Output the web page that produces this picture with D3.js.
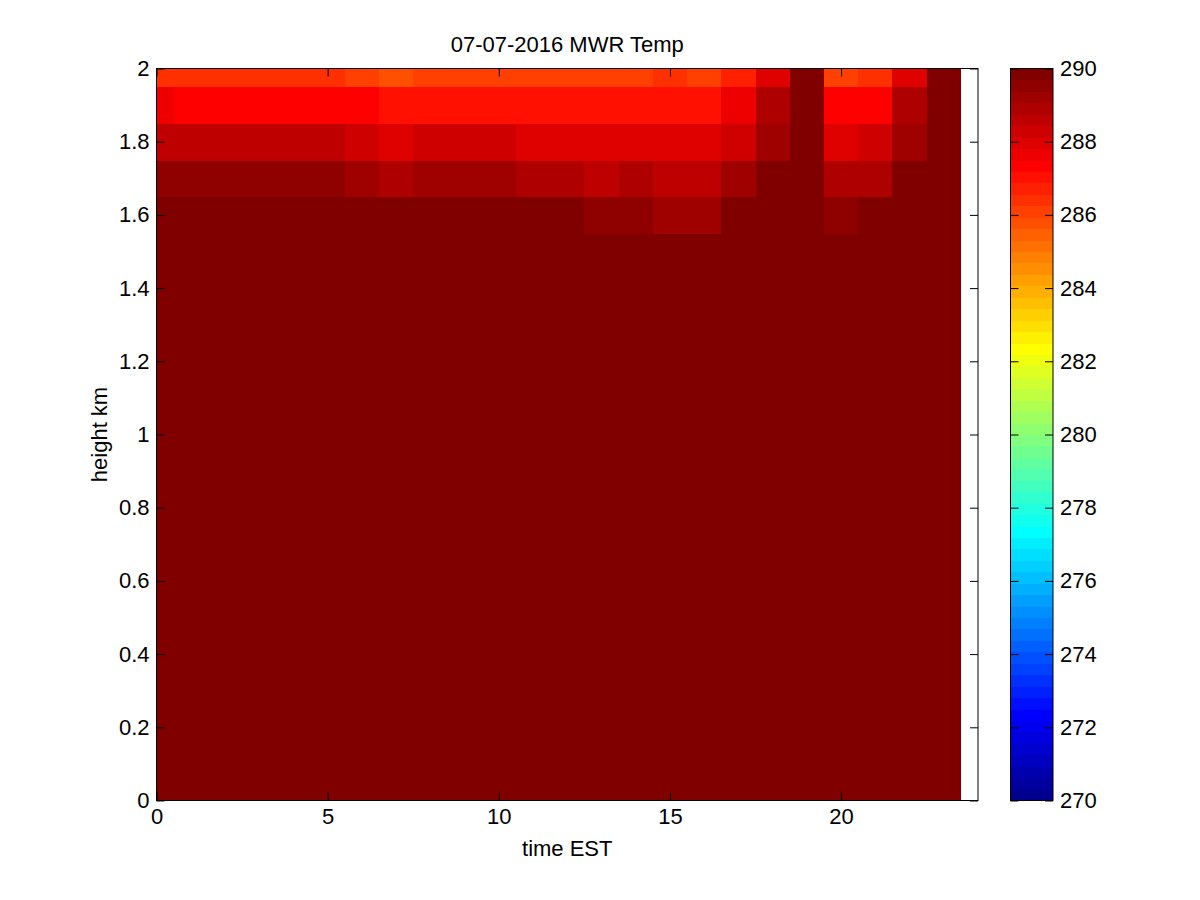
<!DOCTYPE html>
<html>
<head>
<meta charset="utf-8">
<script src="https://cdn.jsdelivr.net/npm/d3@7"></script>
<style>
  body { margin: 0; background: #fff; }
  svg text { font-family: "Liberation Sans", Arial, sans-serif; font-size: 22px; fill: #000; }
</style>
</head>
<body>
<svg id="chart" width="1200" height="900"></svg>
<script>
// time of day (EST hours) for each profile column
const hours = [0, 1, 2, 3, 4, 5, 6, 7, 8, 9, 10, 11, 12, 13, 14, 15, 16, 17, 18, 19, 20, 21, 22, 23];
// retrieval heights, km
const heights = [0, 0.1, 0.2, 0.3, 0.4, 0.5, 0.6, 0.7, 0.8, 0.9, 1.0, 1.1, 1.2, 1.3, 1.4, 1.5, 1.6, 1.7, 1.8, 1.9, 2.0];
// temperature (K), one row per height, one value per hour
const temps = [
  [297.1, 296.8, 296.5, 296.3, 296.0, 295.8, 296.2, 297.4, 298.9, 300.2, 301.3, 302.2, 302.9, 303.4, 303.6, 303.5, 303.1, 302.4, 301.3, 300.1, 299.2, 298.5, 297.9, 297.5],
  [296.9, 296.7, 296.5, 296.3, 296.1, 295.9, 296.0, 296.9, 298.2, 299.5, 300.6, 301.5, 302.2, 302.7, 302.9, 302.8, 302.4, 301.8, 300.8, 299.8, 299.0, 298.3, 297.8, 297.4],
  [296.5, 296.3, 296.1, 295.9, 295.7, 295.5, 295.6, 296.2, 297.4, 298.7, 299.8, 300.7, 301.4, 301.9, 302.1, 302.0, 301.6, 301.0, 300.1, 299.2, 298.5, 297.9, 297.3, 296.9],
  [296.0, 295.8, 295.6, 295.4, 295.2, 295.0, 295.1, 295.5, 296.5, 297.8, 298.9, 299.8, 300.5, 301.0, 301.2, 301.1, 300.7, 300.1, 299.3, 298.5, 297.8, 297.2, 296.7, 296.3],
  [295.4, 295.2, 295.0, 294.8, 294.6, 294.5, 294.5, 294.8, 295.7, 296.9, 298.0, 298.9, 299.6, 300.1, 300.3, 300.2, 299.8, 299.3, 298.5, 297.7, 297.1, 296.5, 296.0, 295.7],
  [294.8, 294.6, 294.4, 294.2, 294.1, 293.9, 293.9, 294.2, 294.9, 296.0, 297.1, 298.0, 298.7, 299.2, 299.4, 299.3, 298.9, 298.4, 297.7, 297.0, 296.3, 295.8, 295.3, 295.0],
  [294.2, 294.0, 293.8, 293.7, 293.5, 293.4, 293.4, 293.6, 294.2, 295.1, 296.2, 297.1, 297.8, 298.3, 298.5, 298.4, 298.0, 297.5, 296.9, 296.2, 295.6, 295.1, 294.7, 294.4],
  [293.7, 293.5, 293.3, 293.2, 293.0, 292.9, 292.9, 293.1, 293.6, 294.4, 295.3, 296.2, 296.9, 297.4, 297.6, 297.5, 297.1, 296.6, 296.0, 295.4, 294.9, 294.4, 294.0, 293.8],
  [293.2, 293.0, 292.8, 292.7, 292.6, 292.5, 292.5, 292.6, 293.0, 293.7, 294.5, 295.3, 296.0, 296.5, 296.7, 296.6, 296.2, 295.8, 295.2, 294.7, 294.2, 293.8, 293.5, 293.3],
  [292.7, 292.6, 292.4, 292.3, 292.2, 292.1, 292.1, 292.2, 292.5, 293.1, 293.8, 294.5, 295.1, 295.6, 295.8, 295.7, 295.4, 295.0, 294.5, 294.0, 293.6, 293.3, 293.0, 292.8],
  [292.3, 292.2, 292.0, 291.9, 291.8, 291.7, 291.7, 291.8, 292.0, 292.5, 293.1, 293.7, 294.3, 294.7, 294.9, 294.8, 294.5, 294.1, 293.7, 293.3, 293.0, 292.7, 292.5, 292.4],
  [291.9, 291.8, 291.7, 291.6, 291.5, 291.4, 291.4, 291.4, 291.6, 291.9, 292.4, 292.9, 293.4, 293.8, 294.0, 293.9, 293.6, 293.3, 292.9, 292.6, 292.3, 292.1, 292.0, 291.9],
  [291.6, 291.5, 291.4, 291.3, 291.2, 291.1, 291.1, 291.1, 291.2, 291.5, 291.8, 292.2, 292.6, 292.9, 293.1, 293.0, 292.8, 292.5, 292.2, 291.9, 291.7, 291.6, 291.5, 291.5],
  [291.3, 291.2, 291.1, 291.0, 291.0, 290.9, 290.8, 290.8, 290.9, 291.1, 291.3, 291.6, 291.9, 292.1, 292.2, 292.1, 291.9, 291.7, 291.5, 291.3, 291.2, 291.1, 291.1, 291.1],
  [291.0, 290.9, 290.9, 290.8, 290.8, 290.7, 290.6, 290.6, 290.6, 290.7, 290.9, 291.1, 291.3, 291.4, 291.5, 291.4, 291.3, 291.1, 291.0, 290.9, 290.8, 290.8, 290.8, 290.8],
  [290.7, 290.6, 290.6, 290.5, 290.5, 290.4, 290.3, 290.3, 290.3, 290.4, 290.5, 290.6, 290.7, 290.8, 290.8, 290.8, 290.7, 290.6, 290.5, 290.5, 290.4, 290.5, 290.5, 290.5],
  [290.2, 290.2, 290.1, 290.1, 290.1, 290.0, 290.0, 290.0, 290.0, 290.1, 290.1, 290.0, 289.8, 289.5, 289.5, 289.2, 289.2, 290.1, 290.4, 290.6, 289.5, 290.0, 290.2, 290.3],
  [289.5, 289.5, 289.5, 289.5, 289.5, 289.5, 289.2, 288.9, 289.2, 289.2, 289.2, 288.9, 288.9, 288.6, 288.9, 288.6, 288.6, 289.2, 290.1, 290.5, 288.9, 288.9, 290.0, 290.3],
  [288.6, 288.6, 288.6, 288.6, 288.6, 288.6, 288.3, 287.9, 288.3, 288.3, 288.3, 288.1, 288.0, 288.0, 288.0, 288.0, 288.0, 288.3, 289.2, 290.4, 288.0, 288.3, 289.2, 290.2],
  [287.6, 287.3, 287.3, 287.3, 287.3, 287.3, 287.3, 287.0, 287.0, 287.0, 287.0, 287.0, 287.0, 287.0, 287.0, 287.0, 287.0, 287.6, 288.8, 290.3, 287.2, 287.2, 288.8, 290.2],
  [286.3, 286.3, 286.3, 286.3, 286.3, 286.3, 286.1, 285.8, 286.1, 286.1, 286.1, 286.1, 286.1, 286.1, 286.1, 286.4, 286.1, 286.7, 287.9, 290.5, 286.1, 286.4, 287.9, 290.4]
];
const xTicks = [0, 5, 10, 15, 20];
const yTicks = [0, 0.2, 0.4, 0.6, 0.8, 1, 1.2, 1.4, 1.6, 1.8, 2];
const cTicks = [270, 272, 274, 276, 278, 280, 282, 284, 286, 288, 290];

// plot box
const L = 156.5, R = 978, T = 68.5, B = 800.5;
const svg = d3.select('#chart');

const x = d3.scaleLinear().domain([0, 24]).range([L, R]);
const y = d3.scaleLinear().domain([0, 2]).range([B, T]);

// MATLAB jet(64)
function jet(m) {
  const n = Math.ceil(m / 4);
  const u = [];
  for (let i = 1; i <= n; i++) u.push(i / n);
  for (let i = 1; i < n; i++) u.push(1);
  for (let i = n; i >= 1; i--) u.push(i / n);
  const J = d3.range(m).map(() => [0, 0, 0]);
  const g0 = Math.ceil(n / 2) - (m % 4 === 1 ? 1 : 0);
  u.forEach((v, k) => {
    const gi = g0 + k + 1, ri = gi + n, bi = gi - n;
    if (ri >= 1 && ri <= m) J[ri - 1][0] = v;
    if (gi >= 1 && gi <= m) J[gi - 1][1] = v;
    if (bi >= 1 && bi <= m) J[bi - 1][2] = v;
  });
  return J.map(c => d3.rgb(c[0] * 255, c[1] * 255, c[2] * 255).formatHex());
}
const jetColors = jet(64);
const color = d3.scaleQuantize().domain([270, 290]).range(jetColors);

// axes background
svg.append('rect').attr('x', L).attr('y', T).attr('width', R - L).attr('height', B - T).attr('fill', '#fff');

svg.append('clipPath').attr('id', 'plotclip')
  .append('rect').attr('x', L).attr('y', T).attr('width', R - L).attr('height', B - T);

// cells (flat shading, centred on each hour / height)
const cells = [];
heights.forEach((h, i) => hours.forEach((t, j) => cells.push({ h: h, t: t, v: temps[i][j] })));
svg.append('g')
  .attr('clip-path', 'url(#plotclip)')
  .selectAll('rect')
  .data(cells)
  .enter()
  .append('rect')
  .attr('x', d => x(d.t - 0.5))
  .attr('width', d => x(d.t + 0.5) - x(d.t - 0.5) + 0.5)
  .attr('y', d => y(d.h + 0.05))
  .attr('height', d => y(d.h - 0.05) - y(d.h + 0.05) + 0.5)
  .attr('fill', d => color(d.v))
  .attr('shape-rendering', 'crispEdges');

// axes, ticks inward on all sides
function tidy(g) {
  g.select('.domain').remove();
  g.attr('font-size', null).attr('font-family', null);
  g.selectAll('.tick line').attr('stroke', '#000');
}
svg.append('g').attr('transform', 'translate(0,' + B + ')')
  .call(d3.axisBottom(x).tickValues(xTicks).tickSizeInner(-8).tickSizeOuter(0).tickPadding(8))
  .call(tidy);
svg.append('g').attr('transform', 'translate(0,' + T + ')')
  .call(d3.axisTop(x).tickValues(xTicks).tickSizeInner(-8).tickSizeOuter(0).tickFormat(''))
  .call(tidy);
svg.append('g').attr('transform', 'translate(' + L + ',0)')
  .call(d3.axisLeft(y).tickValues(yTicks).tickSizeInner(-8).tickSizeOuter(0).tickPadding(7).tickFormat(d3.format('~g')))
  .call(tidy);
svg.append('g').attr('transform', 'translate(' + R + ',0)')
  .call(d3.axisRight(y).tickValues(yTicks).tickSizeInner(-8).tickSizeOuter(0).tickFormat(''))
  .call(tidy);

svg.append('rect').attr('x', L).attr('y', T).attr('width', R - L).attr('height', B - T)
  .attr('fill', 'none').attr('stroke', '#000').attr('stroke-width', 1);

// labels
svg.append('text').attr('x', (L + R) / 2).attr('y', 52).attr('text-anchor', 'middle').text('07-07-2016 MWR Temp');
svg.append('text').attr('x', (L + R) / 2).attr('y', 856).attr('text-anchor', 'middle').text('time EST');
svg.append('text').attr('transform', 'translate(107,' + (T + B) / 2 + ') rotate(-90)')
  .attr('text-anchor', 'middle').text('height km');

// colorbar
const CL = 1010.5, CR = 1053;
const c = d3.scaleLinear().domain([270, 290]).range([B, T]);
const step = 20 / jetColors.length;
svg.append('g').selectAll('rect')
  .data(jetColors)
  .enter()
  .append('rect')
  .attr('x', CL)
  .attr('width', CR - CL)
  .attr('y', (d, i) => c(270 + (i + 1) * step))
  .attr('height', (d, i) => c(270 + i * step) - c(270 + (i + 1) * step) + 0.5)
  .attr('fill', d => d)
  .attr('shape-rendering', 'crispEdges');
svg.append('g').attr('transform', 'translate(' + CR + ',0)')
  .call(d3.axisRight(c).tickValues(cTicks).tickSizeInner(-8).tickSizeOuter(0).tickPadding(7))
  .call(tidy);
svg.append('g').attr('transform', 'translate(' + CL + ',0)')
  .call(d3.axisLeft(c).tickValues(cTicks).tickSizeInner(-8).tickSizeOuter(0).tickFormat(''))
  .call(tidy);
svg.append('rect').attr('x', CL).attr('y', T).attr('width', CR - CL).attr('height', B - T)
  .attr('fill', 'none').attr('stroke', '#000').attr('stroke-width', 1);
</script>
</body>
</html>
